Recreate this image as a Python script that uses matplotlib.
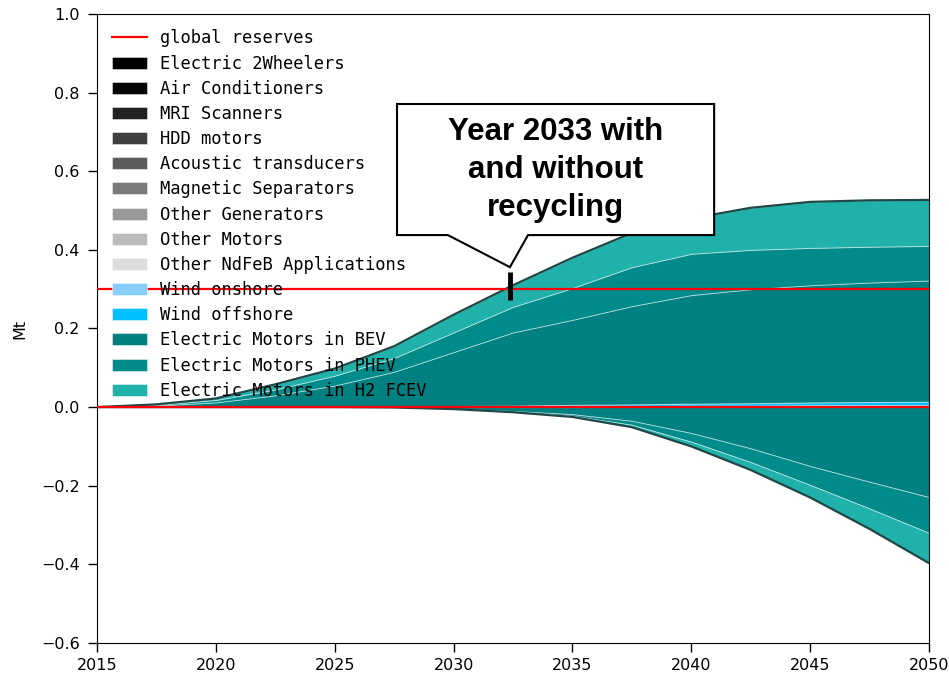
import numpy as np
import matplotlib
matplotlib.use("Agg")
import matplotlib.pyplot as plt
from matplotlib.patches import Polygon
from matplotlib import font_manager

# Data (Mt)
years = [2015, 2017.5, 2020, 2022.5, 2025, 2027.5, 2030, 2032.5, 2035,
         2037.5, 2040, 2042.5, 2045, 2047.5, 2050]

labels = ["Electric 2Wheelers", "Air Conditioners", "MRI Scanners", "HDD motors",
          "Acoustic transducers", "Magnetic Separators", "Other Generators",
          "Other Motors", "Other NdFeB Applications", "Wind onshore",
          "Wind offshore", "Electric Motors in BEV", "Electric Motors in PHEV",
          "Electric Motors in H2 FCEV"]
colors = ["#000000", "#050505", "#222222", "#404040", "#5c5c5c", "#7a7a7a",
          "#999999", "#bbbbbb", "#dddddd", "#87cefa", "#00bfff",
          "#008080", "#008b8b", "#20b2aa"]

zeros = [0.0] * len(years)
wind_on = [0, 0, 0, 0, 0.001, 0.001, 0.002, 0.002, 0.003, 0.003, 0.004, 0.004, 0.005, 0.005, 0.005]
wind_off = [0, 0, 0, 0, 0, 0.001, 0.001, 0.002, 0.003, 0.004, 0.005, 0.006, 0.007, 0.008, 0.009]
bev = [0, 0.004, 0.012, 0.03, 0.054, 0.088, 0.137, 0.186, 0.216, 0.25, 0.276, 0.29, 0.298, 0.304, 0.308]
phev = [0, 0.002, 0.006, 0.015, 0.025, 0.035, 0.05, 0.065, 0.081, 0.099, 0.105, 0.10, 0.095, 0.091, 0.088]
h2 = [0, 0.001, 0.004, 0.013, 0.018, 0.03, 0.045, 0.055, 0.077, 0.087, 0.09, 0.107, 0.117, 0.118, 0.117]

# recycled material (drawn below zero)
bev_rec = [0, 0, 0, 0, 0, -0.001, -0.004, -0.01, -0.018, -0.035, -0.066, -0.105, -0.15, -0.19, -0.229]
phev_rec = [0, 0, 0, 0, 0, 0, -0.001, -0.002, -0.004, -0.01, -0.022, -0.035, -0.048, -0.068, -0.091]
h2_rec = [0, 0, 0, 0, 0, 0, 0, -0.001, -0.003, -0.006, -0.012, -0.02, -0.032, -0.052, -0.077]

reserves = [0.3] * len(years)

fig = plt.figure(figsize=(9.49, 6.82), dpi=100)
ax = fig.add_axes([0.1022, 0.0572, 0.8768, 0.9223])

ax.plot(years, reserves, color="red", lw=1.6, label="global reserves", zorder=5)
ax.axhline(0, color="red", lw=1.6, zorder=5)

pos = [zeros] * 9 + [wind_on, wind_off, bev, phev, h2]
ax.stackplot(years, *pos, labels=labels, colors=colors,
             edgecolor=(1, 1, 1, 0.45), linewidth=0.7)
ax.stackplot(years, bev_rec, phev_rec, h2_rec, colors=colors[11:],
             edgecolor=(1, 1, 1, 0.45), linewidth=0.7)

top = np.sum(pos, axis=0)
bottom = np.sum([bev_rec, phev_rec, h2_rec], axis=0)
ax.plot(years, top, color="#1f4747", lw=1.6, zorder=4)
ax.plot(years, bottom, color="#1f4747", lw=1.6, zorder=4)

ax.set_xlim(2015, 2050)
ax.set_ylim(-0.6, 1.0)
ax.set_ylabel("Mt", fontsize=11.5, labelpad=10)
ax.tick_params(length=6.5, width=1)
ax.tick_params(axis="y", labelsize=11.5, pad=6)
ax.tick_params(axis="x", pad=4.5)

# x tick labels look condensed in the reference
names = {f.name for f in font_manager.fontManager.ttflist}
xfam = "DejaVu Sans Condensed" if "DejaVu Sans Condensed" in names else "DejaVu Sans"
for t in ax.get_xticklabels():
    t.set_family(xfam)
    t.set_fontsize(11.5)

ax.legend(loc="upper left", frameon=False, labelspacing=0.42,
          prop={"family": "DejaVu Sans Mono", "size": 12.3})

# callout box
x0, x1, yb, yt = 2027.62, 2040.96, 0.4376, 0.771
tip = (2032.37, 0.356)
box = Polygon([(x0, yt), (x1, yt), (x1, yb), (2033.13, yb), tip, (2029.76, yb), (x0, yb)],
              closed=True, facecolor="white", edgecolor="black", lw=1.5, zorder=6)
ax.add_patch(box)
ax.text((x0 + x1) / 2, 0.603, "Year 2033 with\nand without\nrecycling",
        ha="center", va="center", family="Liberation Sans", weight="bold",
        fontsize=22.5, linespacing=1.33, zorder=7)
ax.plot([2032.37, 2032.37], [0.272, 0.343], color="black", lw=3.5,
        solid_capstyle="butt", zorder=7)

fig.savefig("out.png", dpi=100)
